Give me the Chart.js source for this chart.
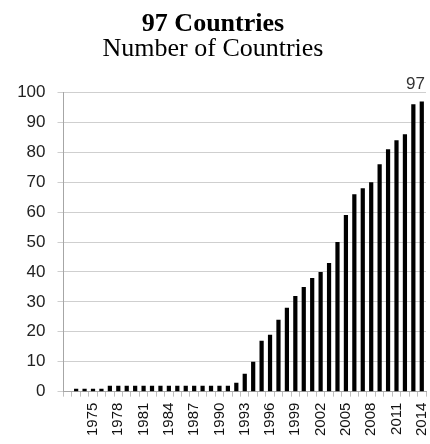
<!DOCTYPE html>
<html>
<head>
<meta charset="utf-8">
<script src="https://cdn.jsdelivr.net/npm/chart.js@4/dist/chart.umd.min.js"></script>
<style>
    html, body { margin: 0; padding: 0; background: #ffffff; }
    canvas { display: block; }
</style>
</head>
<body>
<canvas id="chart" width="430" height="444"></canvas>
<script>
const years = [
    1972, 1973, 1974, 1975, 1976, 1977, 1978, 1979, 1980, 1981, 1982,
    1983, 1984, 1985, 1986, 1987, 1988, 1989, 1990, 1991, 1992, 1993,
    1994, 1995, 1996, 1997, 1998, 1999, 2000, 2001, 2002, 2003, 2004,
    2005, 2006, 2007, 2008, 2009, 2010, 2011, 2012, 2013, 2014,
];
const countries = [
    0, 1, 1, 1, 1, 2, 2, 2, 2, 2, 2,
    2, 2, 2, 2, 2, 2, 2, 2, 2, 3, 6,
    10, 17, 19, 24, 28, 32, 35, 38, 40, 43, 50,
    59, 66, 68, 70, 76, 81, 84, 86, 96, 97,
];
const yTicks = [0, 10, 20, 30, 40, 50, 60, 70, 80, 90, 100];
const titleText = '97 Countries';
const subtitleText = 'Number of Countries';

const sansFont = '"Liberation Sans", Arial, sans-serif';
const serifFont = '"Liberation Serif", "Times New Roman", serif';

// writes the value over the last bar only
const lastValueLabel = {
    id: 'lastValueLabel',
    afterDatasetsDraw(chart) {
        const meta = chart.getDatasetMeta(0);
        const index = countries.length - 1;
        const bar = meta.data[index];
        const ctx = chart.ctx;
        const text = String(countries[index]);

        ctx.save();
        ctx.font = '17px ' + sansFont;
        ctx.fillStyle = '#333333';
        ctx.textAlign = 'center';
        ctx.textBaseline = 'alphabetic';
        const half = ctx.measureText(text).width / 2;
        const x = Math.min(bar.x, chart.width - 5 - half);
        ctx.fillText(text, x, bar.y - 12);
        ctx.restore();
    },
};

new Chart(document.getElementById('chart'), {
    type: 'bar',
    data: {
        labels: years,
        datasets: [{
            data: countries,
            backgroundColor: '#000000',
            borderWidth: 0,
            categoryPercentage: 1,
            barPercentage: 0.5,
        }],
    },
    options: {
        responsive: false,
        animation: false,
        layout: {
            padding: {
                top: 0,
                right: 4,
                bottom: 2,
                left: 0,
            },
        },
        plugins: {
            legend: { display: false },
            tooltip: { enabled: false },
            title: {
                display: true,
                text: titleText,
                color: '#000000',
                font: { family: serifFont, size: 26, weight: 'bold', lineHeight: 1 },
                padding: { top: 11, bottom: 0 },
            },
            subtitle: {
                display: true,
                text: subtitleText,
                color: '#000000',
                font: { family: serifFont, size: 26, weight: 'normal', lineHeight: 0.9 },
                padding: { top: 0, bottom: 32 },
            },
        },
        scales: {
            x: {
                afterFit(scale) {
                    scale.paddingLeft = 0;
                    scale.paddingRight = 0;
                },
                border: { display: true, color: '#a6a6a6' },
                grid: {
                    display: true,
                    drawOnChartArea: false,
                    drawTicks: true,
                    tickLength: 5,
                    color: '#bfbfbf',
                },
                ticks: {
                    autoSkip: false,
                    maxRotation: 90,
                    minRotation: 90,
                    padding: 6,
                    color: '#111111',
                    font: { family: sansFont, size: 15 },
                    callback(value, index) {
                        const year = years[index];
                        return year >= 1975 && (year - 1975) % 3 === 0 ? String(year) : '';
                    },
                },
            },
            y: {
                min: 0,
                max: 100,
                afterBuildTicks(axis) {
                    axis.ticks = yTicks.map((v) => ({ value: v }));
                },
                afterFit(scale) {
                    scale.width = 63.5;
                },
                border: { display: true, color: '#a6a6a6' },
                grid: {
                    color: '#cfcfcf',
                    tickLength: 6,
                },
                ticks: {
                    padding: 12,
                    color: '#222222',
                    font: { family: sansFont, size: 17 },
                },
            },
        },
    },
    plugins: [lastValueLabel],
});
</script>
</body>
</html>
